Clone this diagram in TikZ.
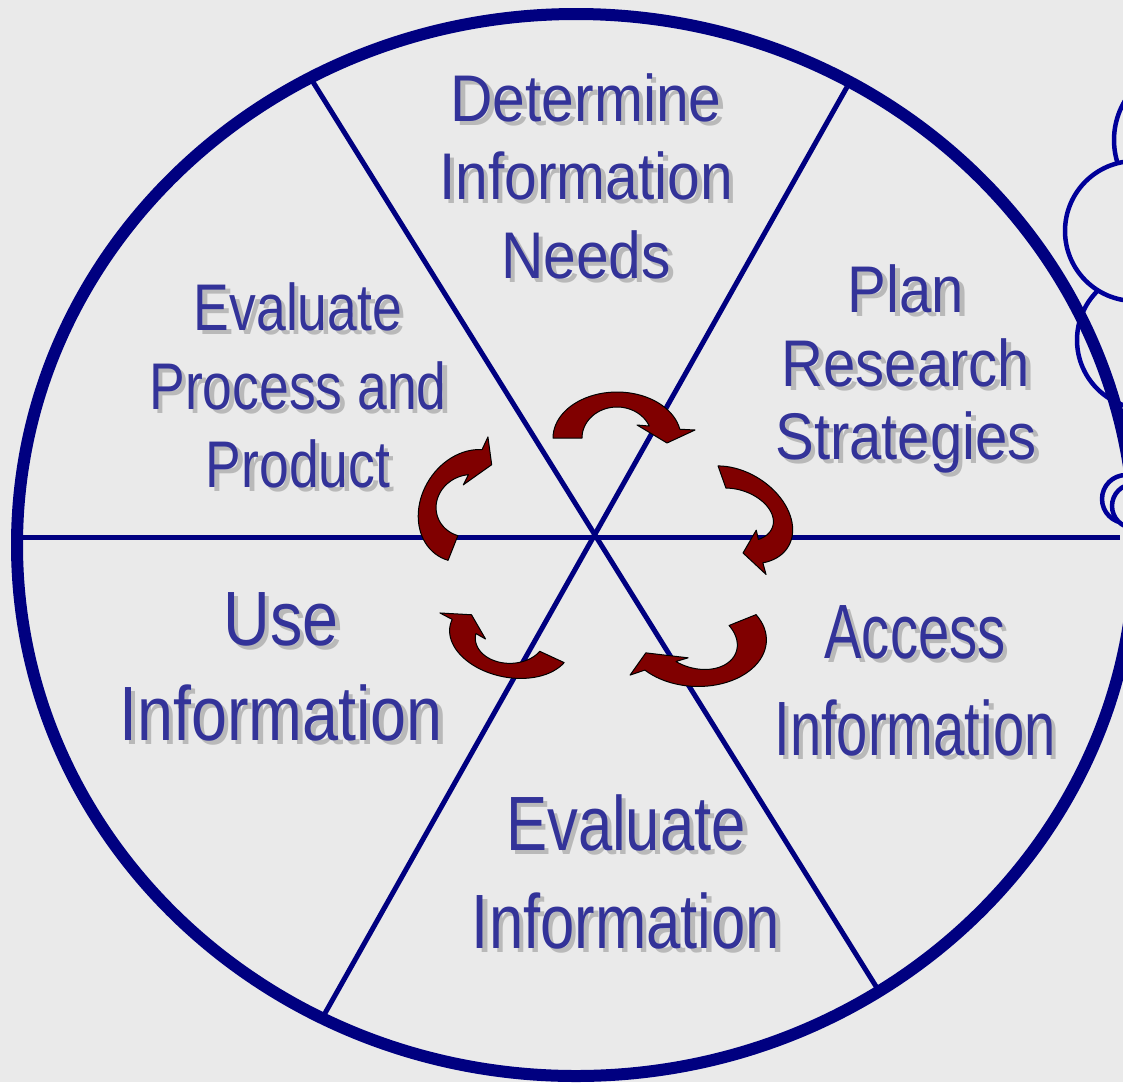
\documentclass[tikz,border=0pt]{standalone}
\usepackage{fontspec}
\setmainfont{Liberation Sans}
\newfontfamily\fDet[FakeStretch=0.89]{Liberation Sans}
\newfontfamily\fPlan[FakeStretch=0.88]{Liberation Sans}
\newfontfamily\fEvp[FakeStretch=0.81]{Liberation Sans}
\newfontfamily\fUse[FakeStretch=0.84]{Liberation Sans}
\newfontfamily\fAcc[FakeStretch=0.73]{Liberation Sans}
\newfontfamily\fEvi[FakeStretch=0.80]{Liberation Sans}
\newcommand\smallsz{\fontsize{66}{78}\selectfont}
\newcommand\bigsz{\fontsize{77}{95}\selectfont}
\definecolor{bgc}{RGB}{234,234,234}
\definecolor{rimc}{RGB}{0,0,128}
\definecolor{cloudc}{RGB}{0,0,153}
\definecolor{txtc}{RGB}{51,51,153}
\definecolor{shc}{RGB}{185,185,185}
\definecolor{arrc}{RGB}{128,0,0}
\newcommand\lbline[5]{%
  \node[shd] (#1s) at (#2+4.5,#3+4.5) {#4#5};
  \node[lbl] (#1) at (#2,#3) {#4#5};}
\newcommand\cyarrow{%
  \filldraw[cyc] (-64,0) -- plot[domain=180:11,samples=40] ({64*cos(\x)},{46*sin(\x)})
    -- (78,8) -- (50,-5) -- (20,13) -- (32,12)
    -- plot[domain=23:180,samples=40] ({35*cos(\x)},{31*sin(\x)}) -- cycle;}
\begin{document}
\begin{tikzpicture}[x=1pt,y=-1pt,
  rim/.style={draw=rimc,line width=12pt},
  spoke/.style={draw=rimc,line width=5pt},
  cloud/.style={draw=cloudc,line width=4.5pt,fill=bgc},
  cyc/.style={fill=arrc,draw=black,line width=1pt,line join=round},
  lbl/.style={text=txtc,inner sep=0pt,anchor=base},
  shd/.style={text=shc,inner sep=0pt,anchor=base}]
\useasboundingbox (0,0) rectangle (1123,1082);
\fill[bgc] (0,0) rectangle (1123,1082);
\begin{scope}
\clip (0,0) rectangle (1123,1082);
% thought-bubble clouds at the right edge
\draw[cloud] (1190,140) circle[radius=76];
\draw[cloud] (1146,340) circle[radius=69];
\draw[cloud] (1135,231) circle[radius=70];
\draw[cloud] (1126,499) circle[radius=24];
\draw[cloud] (1134,506) circle[radius=22];
% spokes
\coordinate (sa1) at (313,82);
\coordinate (sa2) at (877,988);
\coordinate (sb1) at (847,87);
\coordinate (sb2) at (324,1015);
\coordinate (sc1) at (18,537);
\coordinate (sc2) at (1120,537);
\draw[spoke] (sa1) -- (sa2);
\draw[spoke] (sb1) -- (sb2);
\draw[spoke] (sc1) -- (sc2);
% rim
\draw[rim] (576,545) ellipse[x radius=559,y radius=531];
\end{scope}
% cycle arrows (affine frames given as canvas vectors)
\begin{scope}[shift={(617,438)},x={(1pt,0pt)},y={(0pt,1pt)}]\cyarrow\end{scope}
\begin{scope}[shift={(735.4,514.8)},x={(0.271pt,-0.764pt)},y={(1.187pt,-0.004pt)}]\cyarrow\end{scope}
\begin{scope}[shift={(696.4,638.6)},x={(-0.932pt,-0.375pt)},y={(0.797pt,-0.901pt)}]\cyarrow\end{scope}
\begin{scope}[shift={(510.4,637.7)},x={(-0.840pt,0.389pt)},y={(-0.618pt,-0.701pt)}]\cyarrow\end{scope}
\begin{scope}[shift={(469.7,505.8)},x={(0.338pt,0.852pt)},y={(-1.016pt,0.301pt)}]\cyarrow\end{scope}
% labels
\lbline{d1}{586}{121}{\fDet\smallsz}{Determine}
\lbline{d2}{586}{199}{\fDet\smallsz}{Information}
\lbline{d3}{586}{278}{\fDet\smallsz}{Needs}
\lbline{p1}{906}{312}{\fPlan\smallsz}{Plan}
\lbline{p2}{906}{386}{\fPlan\smallsz}{Research}
\lbline{p3}{906}{459}{\fPlan\smallsz}{Strategies}
\lbline{e1}{298}{330}{\fEvp\smallsz}{Evaluate}
\lbline{e2}{298}{409}{\fEvp\smallsz}{Process and}
\lbline{e3}{298}{487}{\fEvp\smallsz}{Product}
\lbline{u1}{281}{645}{\fUse\bigsz}{Use}
\lbline{u2}{281}{740}{\fUse\bigsz}{Information}
\lbline{a1}{915}{658}{\fAcc\bigsz}{Access}
\lbline{a2}{915}{755}{\fAcc\bigsz}{Information}
\lbline{v1}{626}{850}{\fEvi\bigsz}{Evaluate}
\lbline{v2}{626}{948}{\fEvi\bigsz}{Information}
\end{tikzpicture}
\end{document}
